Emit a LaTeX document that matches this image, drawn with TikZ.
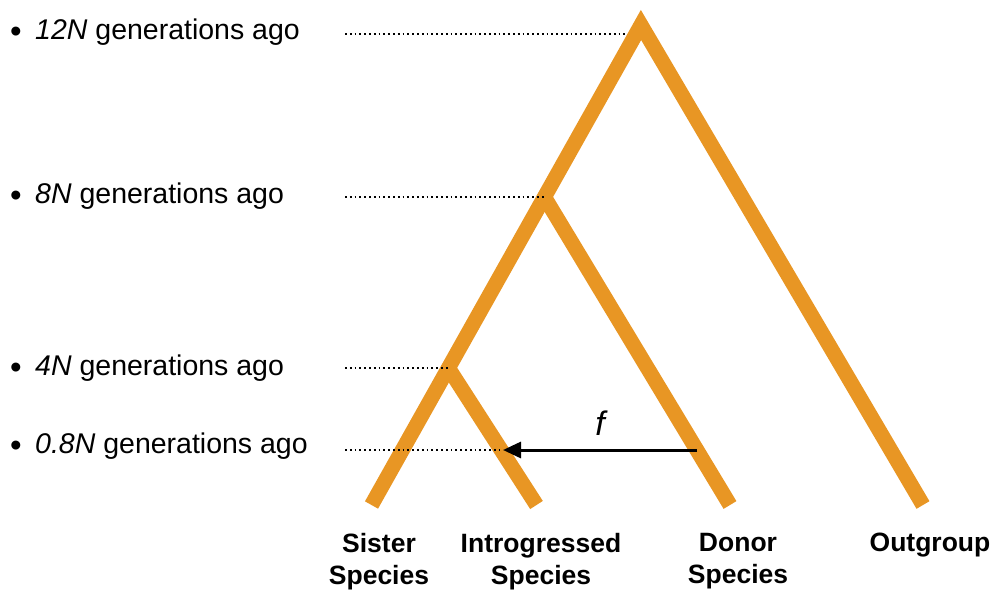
\documentclass[tikz,border=0pt]{standalone}
\usepackage{fontspec}
\setmainfont{Liberation Sans}
\usetikzlibrary{arrows.meta}
\definecolor{treeorange}{RGB}{232,150,36}
\tikzset{
  branch/.style={draw=treeorange, line width=15pt, line cap=butt, line join=miter},
  guide/.style={draw=black, line width=1.8pt, dash pattern=on 1.8pt off 3pt},
  timelabel/.style={anchor=base west, inner sep=0pt, font=\fontsize{28.5}{34}\selectfont},
  bulletlabel/.style={anchor=base, inner sep=0pt, font=\fontsize{33}{40}\selectfont},
  leaflabel/.style={anchor=north, inner sep=0pt, align=center, font=\fontsize{26.5}{32}\selectfont\bfseries},
  flowarrow/.style={draw=black, line width=3pt, -{Triangle[length=18pt,width=16pt]}}
}
\begin{document}
\begin{tikzpicture}[x=1pt,y=-1pt]
\useasboundingbox (0,0) rectangle (997,594);
% tree coordinates
\coordinate (apex) at (641,25);
\coordinate (n8) at (544.4,197);
\coordinate (n4) at (448.4,368);
\coordinate (sister) at (371.5,505);
\coordinate (intro) at (536.5,505);
\coordinate (donor) at (730,505);
\coordinate (outgroup) at (923,505);
% branches
\draw[branch] (sister) -- (apex) -- (outgroup);
\draw[branch] (n8) -- (donor);
\draw[branch] (n4) -- (intro);
% guide coordinates
\coordinate (g12) at (345,34);
\coordinate (e12) at (628,34);
\coordinate (g8) at (345,197);
\coordinate (g4) at (345,368);
\coordinate (g08) at (345,450);
\coordinate (e08) at (503,450);
\coordinate (fstart) at (697,450);
\coordinate (fend) at (503,450);
% dotted guides
\draw[guide] (g12) -- (e12);
\draw[guide] (g8) -- (n8);
\draw[guide] (g4) -- (n4);
\draw[guide] (g08) -- (e08);
% introgression arrow
\draw[flowarrow] (fstart) -- (fend);
\node[inner sep=0pt, font=\fontsize{34}{40}\selectfont\itshape] (flabel) at (600,423) {f};
% time labels
\node[bulletlabel] (b12) at (16,43) {•};
\node[timelabel] (t12) at (35,40) {\textit{12N} generations ago};
\node[bulletlabel] (b8) at (16,206.5) {•};
\node[timelabel] (t8) at (35,203.5) {\textit{8N} generations ago};
\node[bulletlabel] (b4) at (16,378.5) {•};
\node[timelabel] (t4) at (35,375.5) {\textit{4N} generations ago};
\node[bulletlabel] (b08) at (16,456) {•};
\node[timelabel] (t08) at (35,453) {\textit{0.8N} generations ago};
% leaf labels
\node[leaflabel] (lsister) at (379,533) {Sister\\Species};
\node[leaflabel] (lintro) at (541,533) {Introgressed\\Species};
\node[leaflabel] (ldonor) at (738,533) {Donor\\Species};
\node[leaflabel] (lout) at (930,533) {Outgroup};
\end{tikzpicture}
\end{document}
